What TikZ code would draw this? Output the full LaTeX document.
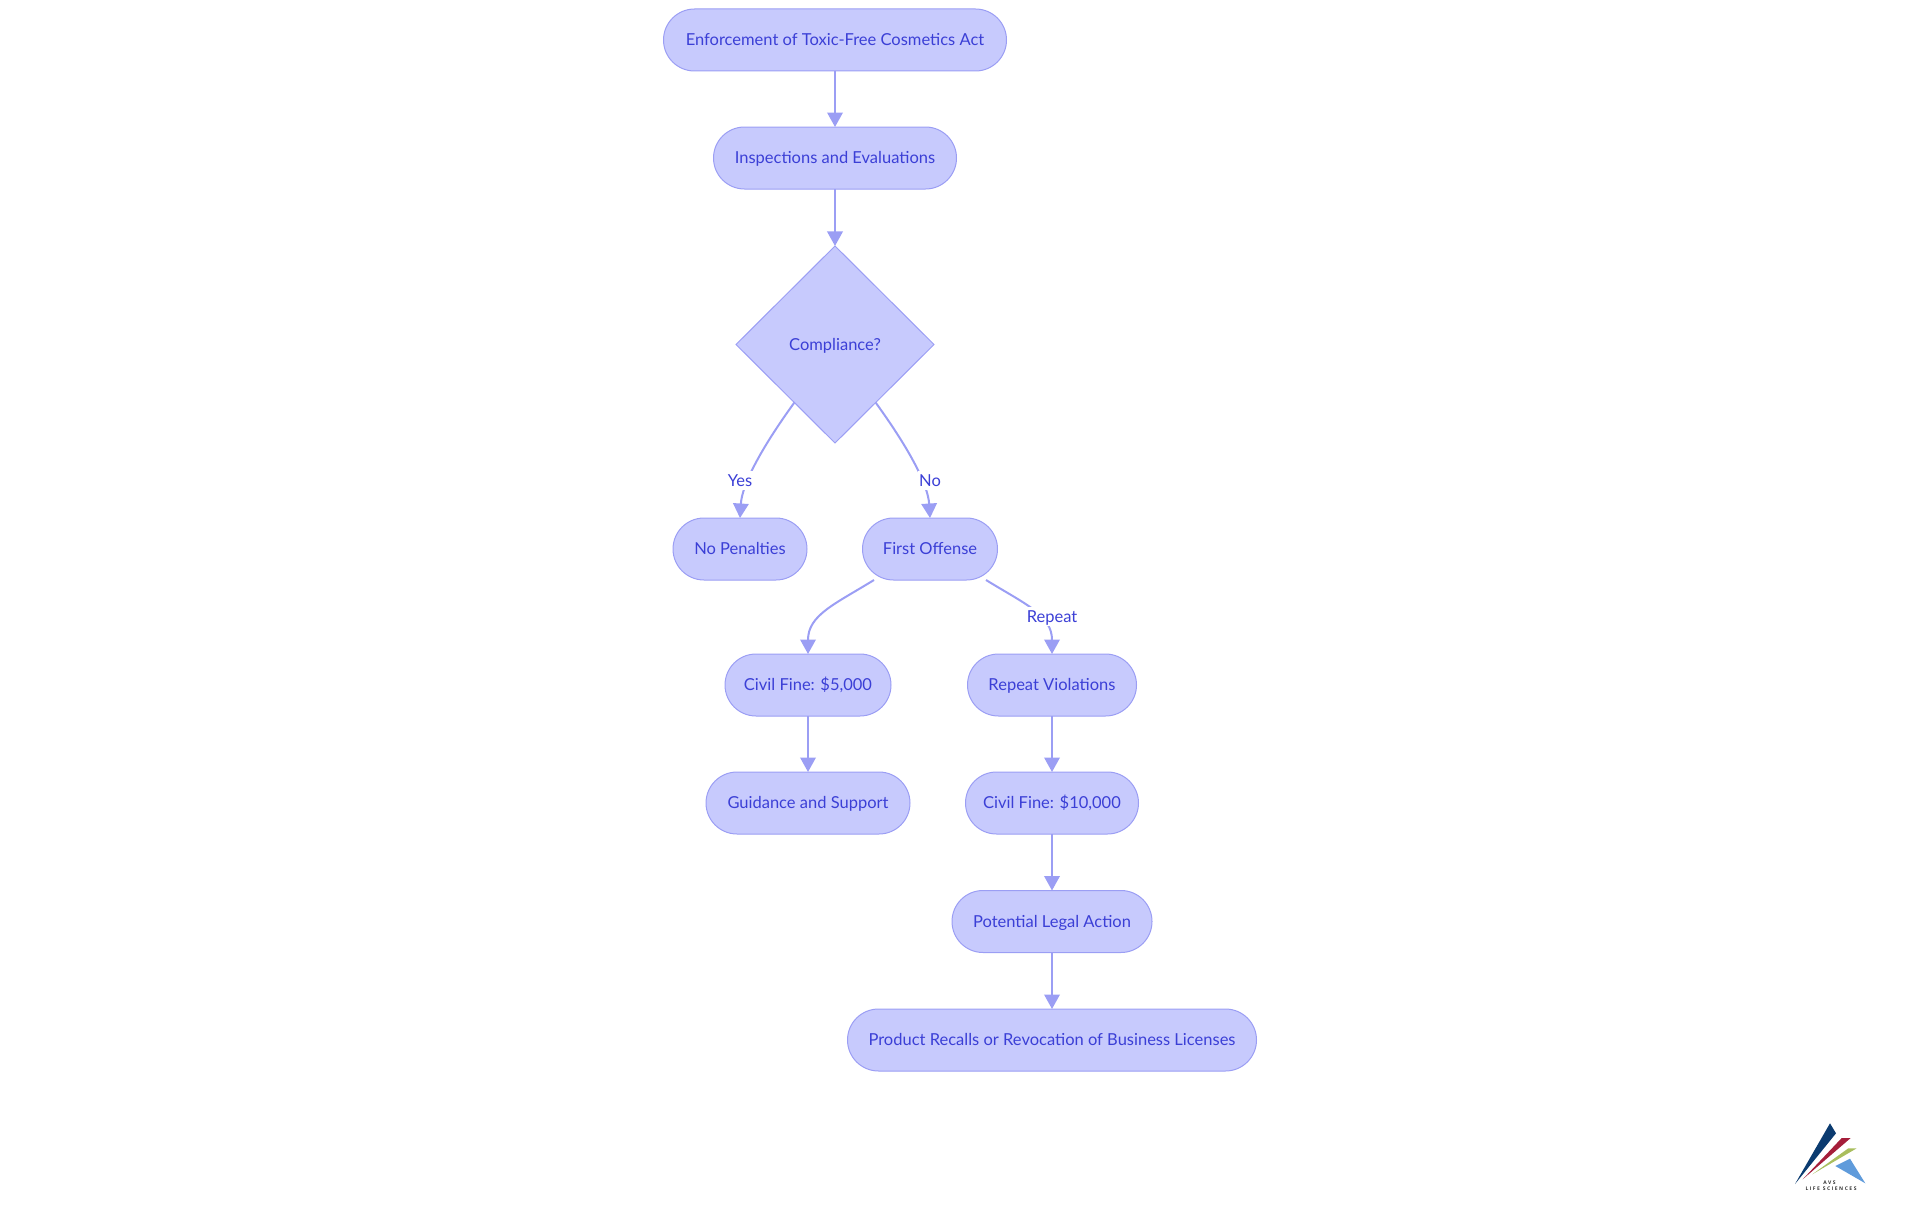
\documentclass[tikz,border=0pt]{standalone}
\usepackage{fontspec}
\setmainfont{Lato}
\newfontfamily\logofont[LetterSpace=30]{Open Sans}
\usetikzlibrary{arrows.meta,shapes.geometric}
\definecolor{nodefill}{HTML}{C7CAFD}
\definecolor{nodeline}{HTML}{9B9EF4}
\definecolor{nodetext}{HTML}{3B3FD6}
\definecolor{logonavy}{HTML}{0B3B70}
\definecolor{logored}{HTML}{A51E3A}
\definecolor{logogreen}{HTML}{A9BE5E}
\definecolor{logoblue}{HTML}{5F9BDB}
\tikzset{
 x=1pt,y=-1pt,
 flowtext/.style={font=\fontsize{16.5}{20}\selectfont,text=nodetext,text height=13pt,text depth=1.2pt,inner sep=0pt,outer sep=0pt},
 pill/.style={flowtext,draw=nodeline,fill=nodefill,line width=1pt,rounded corners=31pt,minimum height=62pt},
 decision/.style={flowtext,draw=nodeline,fill=nodefill,line width=1pt,diamond,minimum width=198pt,minimum height=197pt},
 edge/.style={draw=nodeline,line width=2pt,-{Triangle[length=14.5pt,width=15.5pt,fill=nodeline]}},
 edgelabel/.style={flowtext,fill=white,inner xsep=1pt,inner ysep=2pt},
 logotext/.style={font=\logofont\fontsize{5}{6}\selectfont\bfseries,text=black!80,inner sep=0pt}
}
\begin{document}
\begin{tikzpicture}
\useasboundingbox (0,0) rectangle (1920,1215);
\node[pill,minimum width=343pt] (act) at (835,40) {Enforcement of Toxic-Free Cosmetics Act};
\node[pill,minimum width=243pt] (insp) at (835,158) {Inspections and Evaluations};
\node[decision] (comp) at (835,344.5) {Compliance?};
\node[pill,minimum width=134pt] (nopen) at (740,549) {No Penalties};
\node[pill,minimum width=135pt] (first) at (930,549) {First Offense};
\node[pill,minimum width=166pt] (fine5) at (808,685) {Civil Fine: \$5,000};
\node[pill,minimum width=169pt] (rep) at (1052,685) {Repeat Violations};
\node[pill,minimum width=204pt] (guid) at (808,803) {Guidance and Support};
\node[pill,minimum width=173pt] (fine10) at (1052,803) {Civil Fine: \$10,000};
\node[pill,minimum width=200pt] (legal) at (1052,921.5) {Potential Legal Action};
\node[pill,minimum width=409pt] (recall) at (1052,1040) {Product Recalls or Revocation of Business Licenses};

\draw[edge] (act) -- (insp);
\draw[edge] (insp) -- (comp);
\draw[edge] (comp.235) .. controls (760,450) and (742,485) .. (nopen.north);
\draw[edge] (comp.-55) .. controls (910,450) and (928,485) .. (first.north);
\draw[edge] ([xshift=-56pt]first.south) .. controls (835,604) and (808,615) .. (fine5.north);
\draw[edge] ([xshift=56pt]first.south) .. controls (1025,604) and (1052,615) .. (rep.north);
\draw[edge] (fine5) -- (guid);
\draw[edge] (rep) -- (fine10);
\draw[edge] (fine10) -- (legal);
\draw[edge] (legal) -- (recall);

\node[edgelabel] (lyes) at (740,480.5) {Yes};
\node[edgelabel] (lno) at (930,480.5) {No};
\node[edgelabel] (lrepeat) at (1052,616.5) {Repeat};

\fill[logonavy] (1830,1123.3) -- (1836,1133.3) -- (1795,1184) -- cycle;
\fill[logored] (1841.7,1138) -- (1850.7,1138) -- (1802.7,1179.3) -- cycle;
\fill[logogreen] (1848.3,1148.3) -- (1856.7,1148.3) -- (1812.3,1174.3) -- cycle;
\fill[logoblue] (1850,1158.7) -- (1835.3,1166) -- (1865.3,1183.3) -- cycle;
\node[logotext] (logoa) at (1829.5,1182.5) {AVS};
\node[logotext] (logob) at (1831,1189) {LIFE SCIENCES};
\end{tikzpicture}
\end{document}
